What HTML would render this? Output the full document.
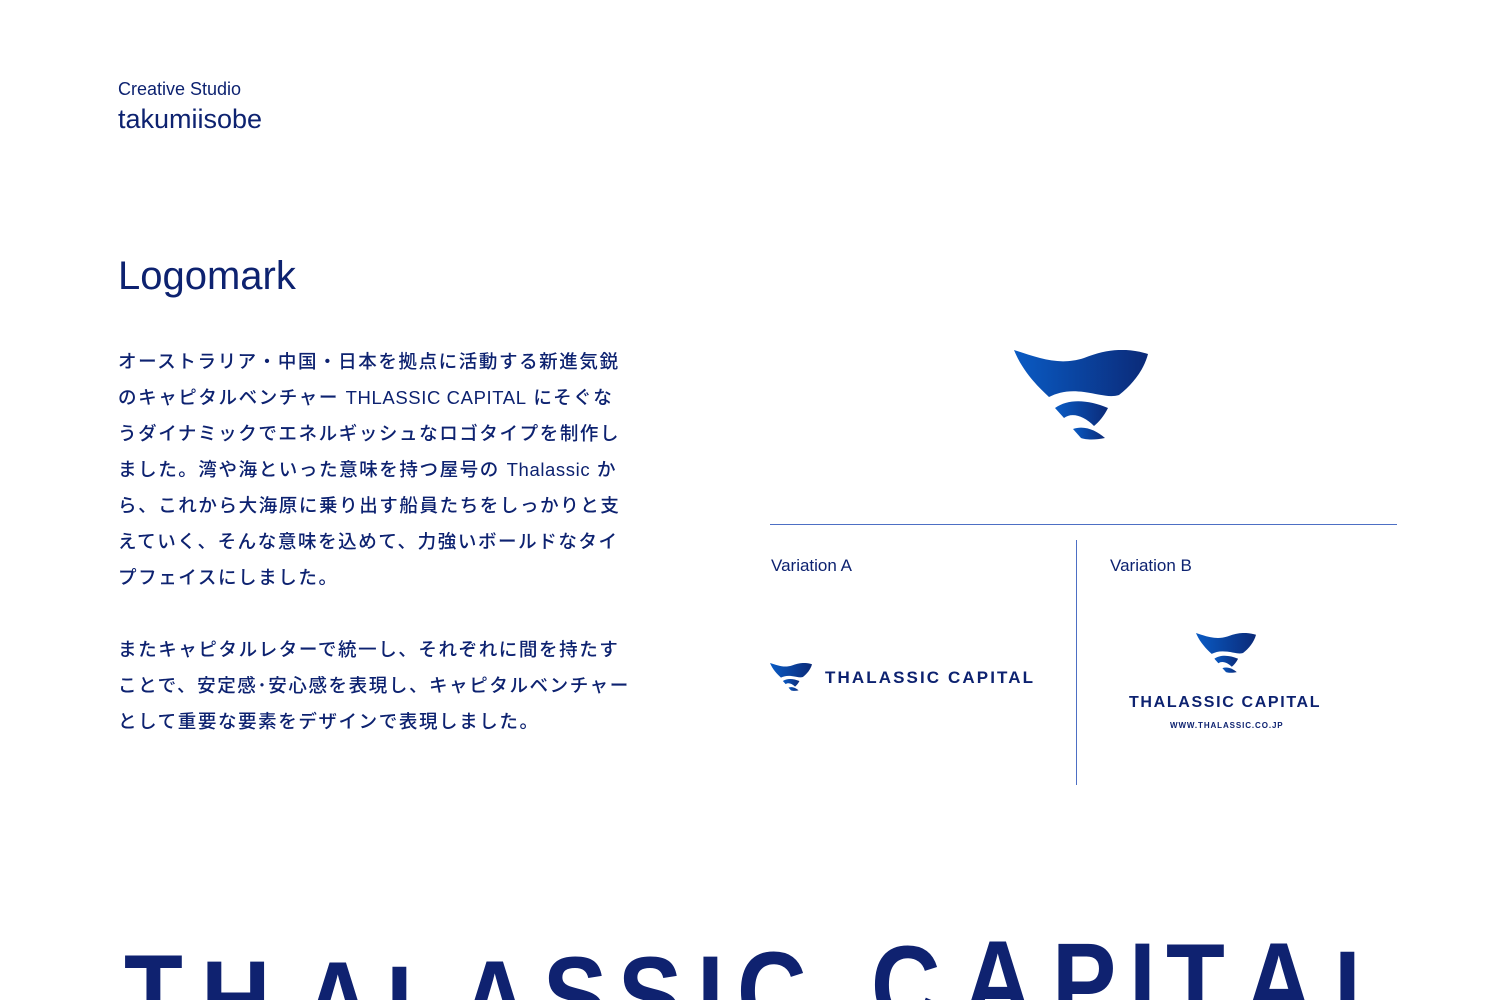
<!DOCTYPE html>
<html><head><meta charset="utf-8"><style>
html,body{margin:0;padding:0;width:1500px;height:1000px;overflow:hidden;background:#fff;position:relative;color:#0d2270;font-family:"Liberation Sans","Noto Sans CJK JP",sans-serif}
.a{position:absolute;white-space:nowrap}
.jp{font-size:18.5px;letter-spacing:1.6px;line-height:36px;font-weight:500}
.jp i{font-style:normal;letter-spacing:0.6px}
.big{position:absolute;font-family:"Liberation Sans",sans-serif;font-weight:bold;font-size:112px;line-height:1;color:#0f2270;transform:scaleX(0.86);transform-origin:0 0}
</style></head><body>
<div style="position:absolute;left:0;top:0;width:1500px;height:1000px;overflow:hidden">
<svg width="0" height="0" style="position:absolute"><defs>
<linearGradient id="g" x1="0" x2="1" y1="0" y2="0"><stop offset="0" stop-color="#0a5bc4"/><stop offset="1" stop-color="#0b2a78"/></linearGradient>
<symbol id="logo" viewBox="0 0 134 90">
<path fill="url(#g)" d="M0 0 C25 8 45 16 70 8 C95 -2 115 -2 134 4 C130 20 118 35 105 45 C95 48 85 44 70 42 C55 40 45 42 35 47 C22 35 8 20 0 0Z"/>
<path fill="url(#g)" d="M41 58 C55 48 75 50 94 58 C90 66 85 72 80 76 C70 66 58 62 50 68 Z"/>
<path fill="url(#g)" d="M59 79 C70 75 82 80 91 88 C82 90 72 90 67 88 Z"/>
</symbol></defs></svg>

<div class="a" style="left:118px;top:79px;font-size:18px">Creative Studio</div>
<div class="a" style="left:118px;top:104px;font-size:27px">takumiisobe</div>
<div class="a" style="left:118px;top:254px;font-size:40px">Logomark</div>

<div class="a jp" style="left:118px;top:344px">
オーストラリア・中国・日本を拠点に活動する新進気鋭<br>
のキャピタルベンチャー <i>THLASSIC CAPITAL</i> にそぐな<br>
うダイナミックでエネルギッシュなロゴタイプを制作し<br>
ました。湾や海といった意味を持つ屋号の <i>Thalassic</i> か<br>
ら、これから大海原に乗り出す船員たちをしっかりと支<br>
えていく、そんな意味を込めて、力強いボールドなタイ<br>
プフェイスにしました。<br><br>
またキャピタルレターで統一し、それぞれに間を持たす<br>
ことで、安定感･安心感を表現し、キャピタルベンチャー<br>
として重要な要素をデザインで表現しました。
</div>

<svg class="a" style="left:1014px;top:350px" width="134" height="90"><use href="#logo"/></svg>

<div class="a" style="left:770px;top:524px;width:627px;height:1px;background:#4d6fc4"></div>
<div class="a" style="left:1076px;top:540px;width:1px;height:245px;background:#4d6fc4"></div>

<div class="a" style="left:771px;top:556px;font-size:17px">Variation A</div>
<div class="a" style="left:1110px;top:556px;font-size:17px">Variation B</div>

<svg class="a" style="left:770px;top:663px" width="42" height="28" viewBox="0 0 134 90" preserveAspectRatio="none"><use href="#logo"/></svg>
<div class="a" style="left:825px;top:668px;font-size:17px;font-weight:bold;letter-spacing:2.1px">THALASSIC CAPITAL</div>

<svg class="a" style="left:1196px;top:633px" width="60" height="40" viewBox="0 0 134 90" preserveAspectRatio="none"><use href="#logo"/></svg>
<div class="a" style="left:1129px;top:694px;font-size:16px;font-weight:bold;letter-spacing:1.65px">THALASSIC CAPITAL</div>
<div class="a" style="left:1170px;top:721px;font-size:8px;font-weight:bold;letter-spacing:0.9px">WWW.THALASSIC.CO.JP</div>

<span class="big" style="left:124px;top:939px">T</span>
<span class="big" style="left:201px;top:945px">H</span>
<span class="big" style="left:303px;top:946px">A</span>
<span class="big" style="left:386px;top:950px">L</span>
<span class="big" style="left:460px;top:945px">A</span>
<span class="big" style="left:543px;top:941px">S</span>
<span class="big" style="left:618px;top:941px">S</span>
<span class="big" style="left:697px;top:940px">I</span>
<span class="big" style="left:737px;top:936px">C</span>
<span class="big" style="left:871px;top:930px">C</span>
<span class="big" style="left:963px;top:925px">A</span>
<span class="big" style="left:1052px;top:927px">P</span>
<span class="big" style="left:1129px;top:927px">I</span>
<span class="big" style="left:1166px;top:928px">T</span>
<span class="big" style="left:1244px;top:927px">A</span>
<span class="big" style="left:1334px;top:935px">L</span>
</div>
</body></html>
